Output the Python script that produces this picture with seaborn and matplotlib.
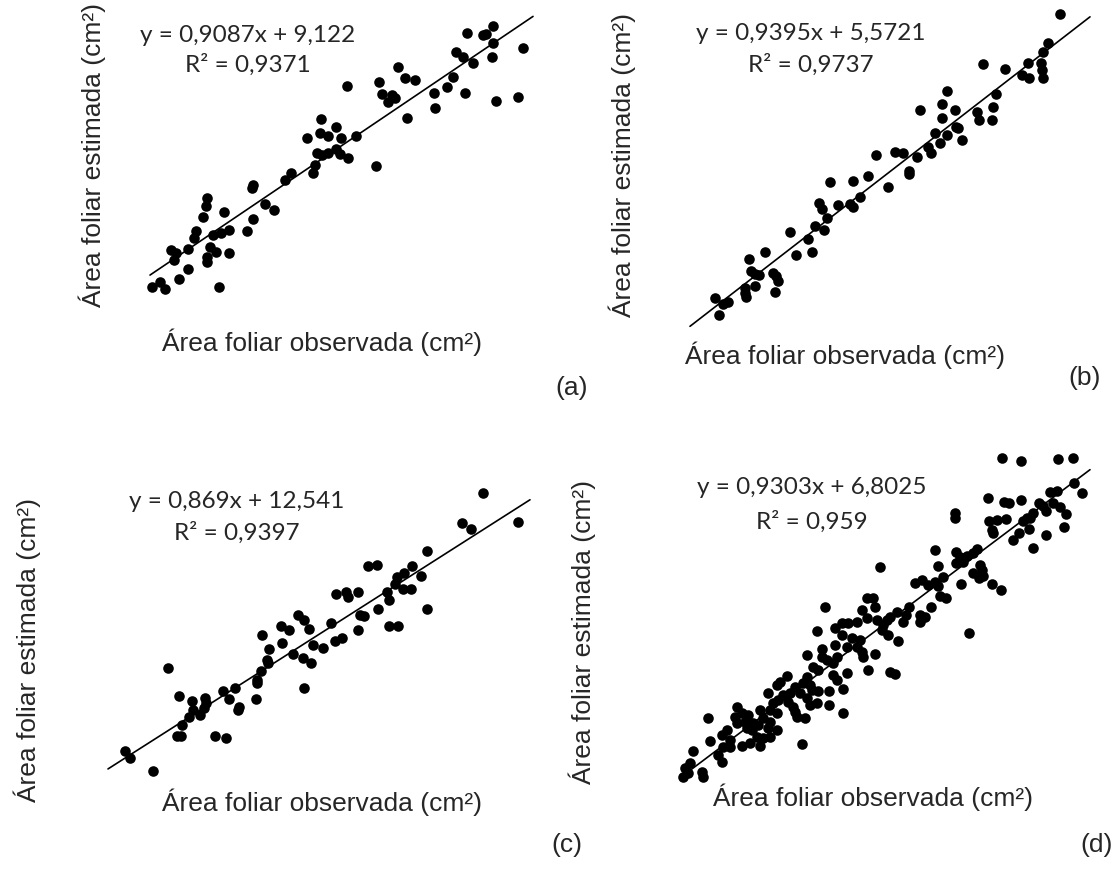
import numpy as np
import pandas as pd
import matplotlib
matplotlib.use("Agg")
import matplotlib.pyplot as plt
import seaborn as sns

sns.set_theme(style="white")
plt.rcParams['font.family'] = ['Liberation Sans', 'DejaVu Sans']

W, H = 1113, 877

# ---- data (arbitrary plot units) ----
obs_a = [321, 307, 320, 328, 336, 341, 317, 322, 328, 336, 315, 313, 291, 285, 253, 252, 265, 274,
         207, 206, 203, 224, 253, 247, 229, 221, 213, 196, 194, 171, 176, 174, 188, 210, 216, 207,
         207, 229, 188, 179, 160, 152, 165, 219,
         493, 467, 483, 486, 493, 523, 456, 463, 473, 492, 347, 379, 398, 405, 415, 382, 392, 395,
         388, 453, 447, 434, 465, 435, 407, 496, 518, 340, 348, 356, 376]
est_a = [119, 138, 133, 136, 127, 138, 153, 155, 153, 149, 165, 173, 173, 180, 185, 188, 204, 210,
         198, 206, 217, 212, 219, 231, 230, 233, 235, 231, 238, 250, 253, 260, 249, 247, 252, 257,
         262, 253, 269, 279, 282, 287, 289, 287,
         26, 33, 35, 34, 43, 48, 52, 57, 63, 57, 86, 82, 67, 78, 80, 94, 95, 98,
         102, 77, 87, 93, 93, 108, 118, 101, 97, 154, 158, 136, 166]

obs_b = [876, 868, 853, 830, 860, 850, 853, 838, 819, 822, 827, 815, 824, 808, 790, 796, 812, 765,
         749, 751, 755, 759, 773, 776, 778, 775, 755, 745, 745, 746, 715, 723, 728, 719,
         1060, 1048, 1043, 1041, 1042, 1043, 1028, 1022, 1029, 1005, 983, 996, 993, 992, 977, 979,
         947, 942, 955, 942, 920, 935, 947, 956, 958, 962, 940, 928, 931, 917, 895, 903, 909, 909, 888]
est_b = [155, 176, 181, 182, 197, 204, 207, 205, 203, 209, 218, 226, 230, 239, 232, 255, 252, 252,
         259, 271, 274, 275, 273, 276, 281, 292, 286, 288, 293, 297, 298, 304, 302, 315,
         14, 43, 52, 63, 70, 78, 63, 75, 78, 69, 64, 94, 107, 120, 112, 120,
         91, 104, 110, 118, 110, 133, 135, 127, 128, 140, 143, 147, 153, 157, 152, 153, 171, 174, 187]

obs_c = [298, 304, 281, 289, 309, 262, 282, 269, 313, 293, 267, 268, 303, 311, 261, 257, 257, 304,
         256, 235, 223, 229, 239, 238, 168, 179, 192, 205, 206, 193, 200, 204, 189, 182, 177, 181,
         215, 226, 125, 130, 153,
         483, 518, 462, 471, 427, 368, 377, 412, 397, 404, 395, 421, 403, 411, 387, 389, 427, 336,
         346, 348, 358, 378, 360, 364, 358, 389, 398, 331, 323, 335, 342]
est_c = [615, 620, 626, 630, 629, 635, 643, 649, 645, 654, 660, 663, 658, 663, 671, 680, 683, 688,
         699, 688, 691, 699, 707, 710, 668, 696, 701, 698, 703, 710, 715, 708, 717, 725, 736, 736,
         736, 738, 751, 758, 771,
         493, 522, 523, 529, 551, 566, 565, 566, 577, 573, 584, 576, 589, 589, 592, 600, 609, 594,
         592, 597, 592, 609, 615, 616, 630, 626, 626, 623, 648, 641, 638]

obs_d = [1002, 1021, 1058, 1073, 1074, 1082, 1050, 1057, 988, 1004, 1009, 1021, 1039, 1043, 1053, 1060,
         1046, 1066, 1033, 1030, 1023, 1027, 1064, 1029, 1046, 1019, 1013, 1033, 955, 955, 989, 997,
         1006, 992, 993, 935, 956, 960, 967, 973, 977, 956, 963, 938, 980, 982, 880, 973, 979, 983,
         992, 1001, 961, 915, 922, 928, 935, 938, 943, 940, 946, 909, 931, 897, 890, 887, 883, 906,
         903, 920, 925, 920, 882, 888, 898, 969, 890, 895,
         825, 867, 873, 875, 862, 867, 877, 857, 848, 842, 835, 842, 852, 860, 817, 822, 835, 847,
         857, 862, 863, 875, 807, 822, 827, 813, 818, 868, 847, 837, 833, 833, 837, 843, 829, 818,
         843, 829, 817,
         787, 780, 777, 807, 803, 810, 795, 800, 790, 768, 783, 778, 773, 807, 810, 788, 793, 737,
         760, 770, 777, 797, 805, 708, 735, 742, 748, 737, 745, 753, 763, 770, 768, 758, 752, 747,
         777, 727, 722, 730, 757, 763, 770, 750, 742, 760, 802, 710, 730, 723, 693, 718, 722, 690,
         685, 688, 683, 702, 703, 795, 812]
est_d = [458, 461, 459, 458, 483, 493, 492, 491, 498, 502, 503, 500, 503, 506, 503, 507,
         511, 514, 513, 518, 521, 518, 527, 529, 535, 533, 540, 548, 513, 518, 521, 520,
         519, 530, 533, 550, 552, 557, 556, 553, 549, 563, 562, 566, 565, 570, 567, 573, 578, 576,
         584, 590, 584, 583, 580, 585, 582, 586, 577, 596, 598, 607, 607, 612, 617, 620, 625, 615,
         622, 615, 617, 622, 630, 635, 641, 633, 672, 674,
         607, 598, 598, 607, 610, 618, 620, 622, 623, 623, 628, 635, 638, 640, 631, 649, 645, 647,
         647, 652, 657, 654, 655, 657, 660, 667, 670, 670, 673, 657, 663, 675, 680, 689, 691, 691,
         713, 705, 703,
         676, 682, 685, 677, 683, 685, 687, 693, 693, 693, 695, 700, 703, 698, 705, 702, 707, 707,
         710, 710, 713, 717, 718, 718, 717, 713, 715, 723, 722, 723, 718, 722, 728, 725, 730, 728,
         730, 730, 735, 740, 737, 738, 737, 743, 746, 746, 744, 741, 747, 747, 751, 755, 762, 763,
         768, 773, 777, 772, 777, 712, 690]

eq_text = ["y = 0,9087x + 9,122", "y = 0,9395x + 5,5721", "y = 0,869x + 12,541", "y = 0,9303x + 6,8025"]
r2_text = ["R² = 0,9371", "R² = 0,9737", "R² = 0,9397", "R² = 0,959"]
panel_tags = ["(a)", "(b)", "(c)", "(d)"]
xlabel = "Área foliar observada (cm²)"
ylabel = "Área foliar estimada (cm²)"

# ---- layout (pixels) ----
# x0, x1, ytop, ybot for each axes
boxes = [(150, 533, 5, 300), (690, 1090, 0, 330), (108, 530, 480, 790), (680, 1090, 440, 790)]
eq_pos = [(248, 36, 65), (811, 33, 65), (237, 502, 533), (812, 488, 522)]
xlab_pos = [(322, 342), (845, 355), (322, 802), (873, 797)]
ylab_pos = [(92, 155), (622, 165), (27, 650), (582, 632)]
tag_pos = [(572, 388), (1085, 378), (567, 845), (1097, 845)]

datasets = [(obs_a, est_a), (obs_b, est_b), (obs_c, est_c), (obs_d, est_d)]

fig = plt.figure(figsize=(W / 100, H / 100), dpi=100)
fig.patch.set_facecolor("white")

def fx(x):
    return x / W

def fy(y):
    return 1 - y / H

for i, ((xs, ys), (x0, x1, yt, yb)) in enumerate(zip(datasets, boxes)):
    ax = fig.add_axes([fx(x0), fy(yb), (x1 - x0) / W, (yb - yt) / H])
    ax.set_xlim(x0, x1)
    ax.set_ylim(yb, yt)
    df = pd.DataFrame({"obs": xs, "est": ys})
    sns.regplot(data=df, x="obs", y="est", ax=ax, ci=None, truncate=False,
                scatter_kws=dict(s=58, color="black", linewidths=0, alpha=1, clip_on=False),
                line_kws=dict(color="black", lw=1.2, clip_on=False))
    ax.set_xlim(x0, x1)
    ax.set_ylim(yb, yt)
    ax.set_axis_off()

    ex, ey1, ey2 = eq_pos[i]
    fig.text(fx(ex), fy(ey1), eq_text[i], ha="center", va="center", fontsize=17.5, family=["Lato", "DejaVu Sans"])
    fig.text(fx(ex), fy(ey2), r2_text[i], ha="center", va="center", fontsize=17.5, family=["Lato", "DejaVu Sans"])
    lx, ly = xlab_pos[i]
    fig.text(fx(lx), fy(ly), xlabel, ha="center", va="center", fontsize=19)
    yx, yy = ylab_pos[i]
    fig.text(fx(yx), fy(yy), ylabel, ha="center", va="center", rotation=90, fontsize=19)
    tx, ty = tag_pos[i]
    fig.text(fx(tx), fy(ty), panel_tags[i], ha="center", va="center", fontsize=19)

fig.savefig("out.png", dpi=100, facecolor="white")
